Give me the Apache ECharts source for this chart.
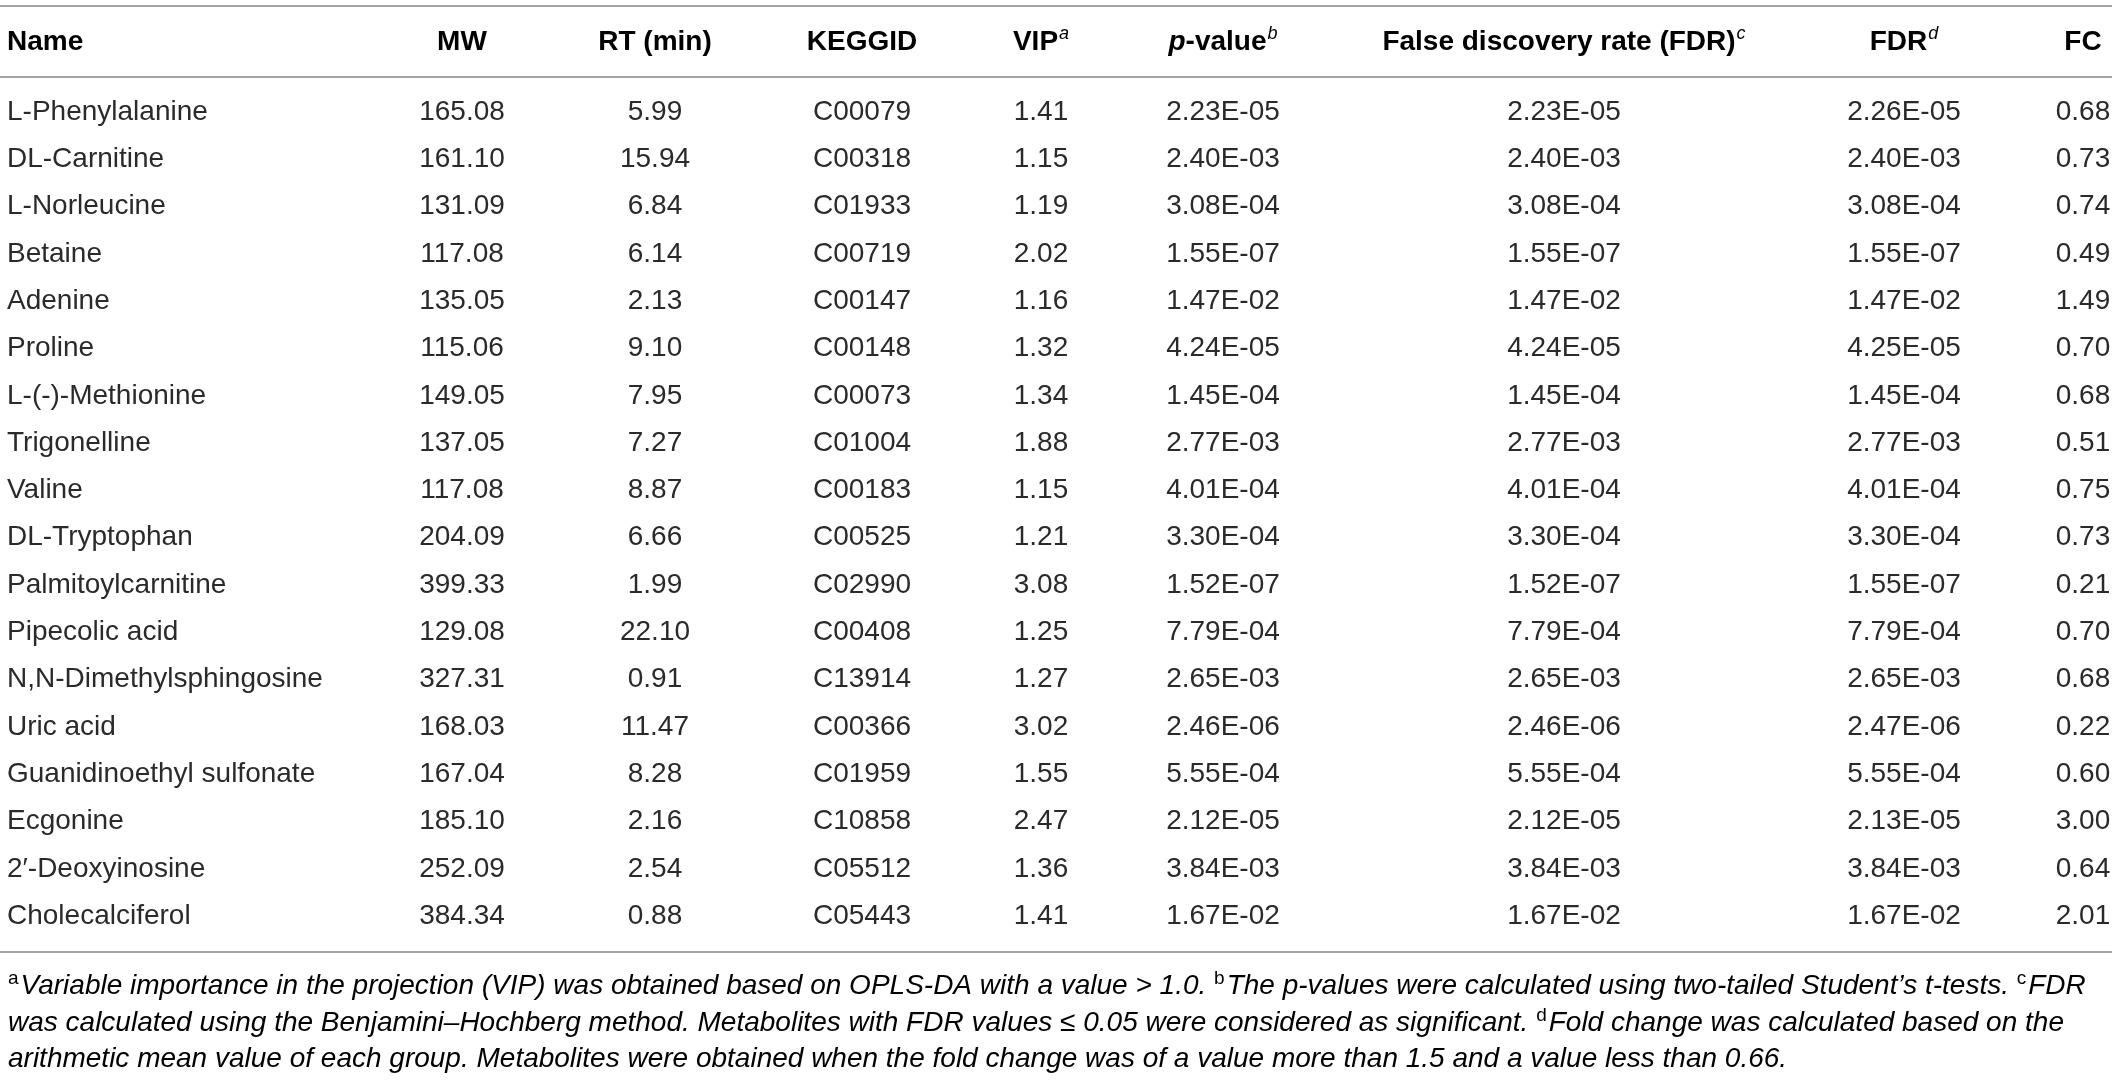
<!DOCTYPE html>
<html lang="en">
<head>
    <meta charset="UTF-8">
    <title>Metabolites table</title>
    <script src="https://cdn.jsdelivr.net/npm/echarts@6/dist/echarts.min.js"></script>
    <style>
        *{
            margin:0;
            padding:0;
        }
        html, body {
            background: #fff;
        }
        #main {
            width: 2118px;
            height: 1081px;
        }
    </style>
</head>
<body>
<div id="main"></div>
<script>

    // table data
    var names = ['L-Phenylalanine', 'DL-Carnitine', 'L-Norleucine', 'Betaine', 'Adenine', 'Proline',
        'L-(-)-Methionine', 'Trigonelline', 'Valine', 'DL-Tryptophan', 'Palmitoylcarnitine', 'Pipecolic acid',
        'N,N-Dimethylsphingosine', 'Uric acid', 'Guanidinoethyl sulfonate', 'Ecgonine', '2\u2032-Deoxyinosine', 'Cholecalciferol'];
    var mw = [165.08, 161.10, 131.09, 117.08, 135.05, 115.06, 149.05, 137.05, 117.08,
        204.09, 399.33, 129.08, 327.31, 168.03, 167.04, 185.10, 252.09, 384.34];
    var rt = [5.99, 15.94, 6.84, 6.14, 2.13, 9.10, 7.95, 7.27, 8.87,
        6.66, 1.99, 22.10, 0.91, 11.47, 8.28, 2.16, 2.54, 0.88];
    var keggId = ['C00079', 'C00318', 'C01933', 'C00719', 'C00147', 'C00148', 'C00073', 'C01004', 'C00183',
        'C00525', 'C02990', 'C00408', 'C13914', 'C00366', 'C01959', 'C10858', 'C05512', 'C05443'];
    var vip = [1.41, 1.15, 1.19, 2.02, 1.16, 1.32, 1.34, 1.88, 1.15,
        1.21, 3.08, 1.25, 1.27, 3.02, 1.55, 2.47, 1.36, 1.41];
    var pValue = [2.23e-5, 2.40e-3, 3.08e-4, 1.55e-7, 1.47e-2, 4.24e-5, 1.45e-4, 2.77e-3, 4.01e-4,
        3.30e-4, 1.52e-7, 7.79e-4, 2.65e-3, 2.46e-6, 5.55e-4, 2.12e-5, 3.84e-3, 1.67e-2];
    var fdrBH = [2.23e-5, 2.40e-3, 3.08e-4, 1.55e-7, 1.47e-2, 4.24e-5, 1.45e-4, 2.77e-3, 4.01e-4,
        3.30e-4, 1.52e-7, 7.79e-4, 2.65e-3, 2.46e-6, 5.55e-4, 2.12e-5, 3.84e-3, 1.67e-2];
    var fdrD = [2.26e-5, 2.40e-3, 3.08e-4, 1.55e-7, 1.47e-2, 4.25e-5, 1.45e-4, 2.77e-3, 4.01e-4,
        3.30e-4, 1.55e-7, 7.79e-4, 2.65e-3, 2.47e-6, 5.55e-4, 2.13e-5, 3.84e-3, 1.67e-2];
    var fc = [0.68, 0.73, 0.74, 0.49, 1.49, 0.70, 0.68, 0.51, 0.75,
        0.73, 0.21, 0.70, 0.68, 0.22, 0.60, 3.00, 0.64, 2.01];

    // header (rich text, a-d are superscripts)
    var headers = ['{b|Name}', '{b|MW}', '{b|RT (min)}', '{b|KEGGID}', '{b|VIP}{sup|a}',
        '{bi|p}{b|-value}{sup|b}', '{b|False discovery rate (FDR)}{sup|c}', '{b|FDR}{sup|d}', '{b|FC}'];

    var notes = [
        '{sa|a}{it|Variable importance in the projection (VIP) was obtained based on OPLS-DA with a value > 1.0. }{sa|b}{it|The p-values were calculated using two-tailed Student\u2019s t-tests. }{sa|c}{it|FDR}',
        '{it|was calculated using the Benjamini\u2013Hochberg method. Metabolites with FDR values \u2264 0.05 were considered as significant. }{sa|d}{it|Fold change was calculated based on the}',
        '{it|arithmetic mean value of each group. Metabolites were obtained when the fold change was of a value more than 1.5 and a value less than 0.66.}'
    ];

    // layout only
    var LAYOUT = {
        colX: [7, 462, 655, 862, 1041, 1223, 1564, 1904, 2083],
        colAlign: ['left', 'center', 'center', 'center', 'center', 'center', 'center', 'center', 'center'],
        headerY: 42,
        rules: [6, 77, 952],
        ruleEnd: 2112,
        noteX: 8,
        noteY: [986, 1023, 1059],
        gridTop: 88.4,
        gridHeight: 851.4
    };

    var FONT = 'Liberation Sans, Arial, Helvetica, sans-serif';
    var TXT = '#2a2a2a';

    function fix2(v) {
        return v.toFixed(2);
    }
    function sci(v) {
        var parts = v.toExponential(2).split('e');
        var e = parseInt(parts[1], 10);
        return parts[0] + 'E' + (e < 0 ? '-' : '+') + (Math.abs(e) < 10 ? '0' : '') + Math.abs(e);
    }

    var columns = [names, mw.map(fix2), rt.map(fix2), keggId, vip.map(fix2),
        pValue.map(sci), fdrBH.map(sci), fdrD.map(sci), fc.map(fix2)];

    var cellData = [];
    var cellText = [];
    columns.forEach(function (col, c) {
        col.forEach(function (txt, r) {
            cellData.push([LAYOUT.colX[c], r, c]);
            cellText.push(txt);
        });
    });

    var graphics = [];
    LAYOUT.rules.forEach(function (y) {
        graphics.push({
            type: 'line',
            shape: {x1: 0, y1: y, x2: LAYOUT.ruleEnd, y2: y},
            style: {stroke: '#a3a3a3', lineWidth: 2}
        });
    });
    var headRich = {
        b: {fontFamily: FONT, fontSize: 28, fontWeight: 'bold', color: '#1e1e1e', lineHeight: 34},
        bi: {fontFamily: FONT, fontSize: 28, fontWeight: 'bold', fontStyle: 'italic', color: '#1e1e1e', lineHeight: 34},
        sup: {fontFamily: FONT, fontSize: 18, fontStyle: 'italic', color: '#1e1e1e', lineHeight: 20, verticalAlign: 'top', padding: [0, 0, 0, 1]}
    };
    headers.forEach(function (h, c) {
        graphics.push({
            type: 'text',
            x: LAYOUT.colX[c],
            y: LAYOUT.headerY,
            style: {text: h, rich: headRich, align: LAYOUT.colAlign[c], verticalAlign: 'middle'}
        });
    });
    var noteRich = {
        it: {fontFamily: FONT, fontSize: 28, fontStyle: 'italic', color: TXT, lineHeight: 34},
        sa: {fontFamily: FONT, fontSize: 19, color: TXT, lineHeight: 22, verticalAlign: 'top', padding: [0, 2, 0, 0]}
    };
    notes.forEach(function (n, i) {
        graphics.push({
            type: 'text',
            x: LAYOUT.noteX,
            y: LAYOUT.noteY[i],
            style: {text: n, rich: noteRich, align: 'left', verticalAlign: 'middle'}
        });
    });

    window.onload = function () {

        var chart = echarts.init(document.getElementById('main'));

        var option = {
            backgroundColor: '#fff',
            animation: false,
            grid: {
                left: 0,
                right: 0,
                top: LAYOUT.gridTop,
                height: LAYOUT.gridHeight
            },
            xAxis: {
                type: 'value',
                min: 0,
                max: 2118,
                show: false
            },
            yAxis: {
                type: 'category',
                data: names,
                inverse: true,
                show: false
            },
            graphic: graphics,
            series: [
                {
                    type: 'custom',
                    silent: true,
                    clip: false,
                    encode: {x: 0, y: 1},
                    data: cellData,
                    renderItem: function (params, api) {
                        var c = api.value(2);
                        var p = api.coord([api.value(0), api.value(1)]);
                        return {
                            type: 'text',
                            x: p[0],
                            y: p[1],
                            style: {
                                text: cellText[params.dataIndex],
                                fill: TXT,
                                fontFamily: FONT,
                                fontSize: 28,
                                align: LAYOUT.colAlign[c],
                                verticalAlign: 'middle'
                            }
                        };
                    }
                }
            ]
        };

        chart.setOption(option);
    };

</script>
</body>
</html>
